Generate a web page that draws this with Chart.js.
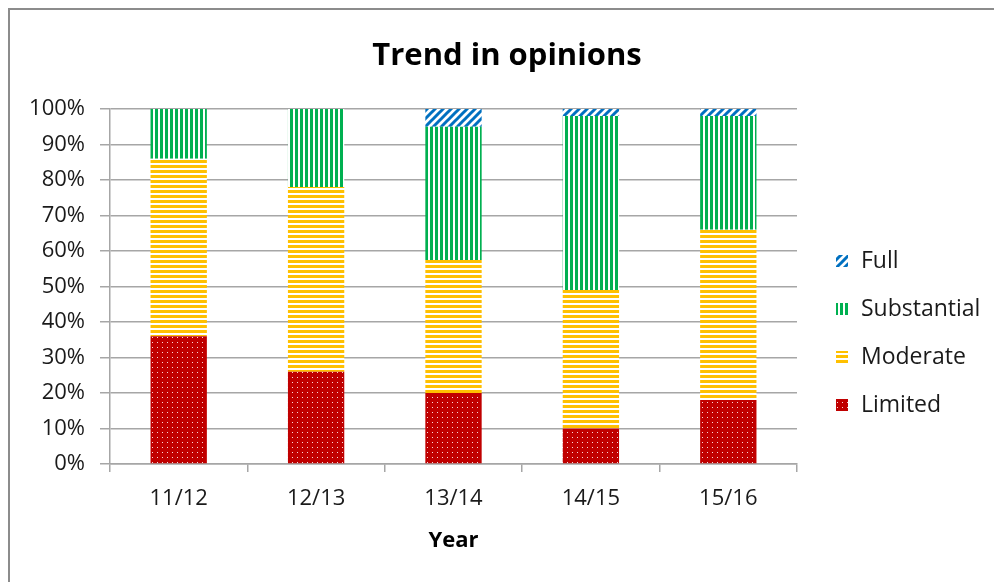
<!DOCTYPE html>
<html>
<head>
<meta charset="utf-8">
<script src="https://cdn.jsdelivr.net/npm/chart.js@4.4.0/dist/chart.umd.min.js"></script>
<style>
    body { margin: 0; background: #fff; }
    #wrap { width: 994px; height: 582px; position: relative; }
</style>
</head>
<body>
<div id="wrap"><canvas id="trendChart"></canvas></div>
<script>
// values (percent of responses)
const years = ['11/12', '12/13', '13/14', '14/15', '15/16'];
const seriesNames = ['Limited', 'Moderate', 'Substantial', 'Full'];
const limited = [36, 26, 20, 10, 18];
const moderate = [50, 52, 37.5, 39, 48];
const substantial = [14, 22, 37.5, 49, 32];
const full = [0, 0, 5, 2, 2];

const FONT = "'Open Sans', 'Noto Sans', sans-serif";
const GRID = '#a6a6a6';

function makePattern(size, draw) {
    const c = document.createElement('canvas');
    c.width = size;
    c.height = size;
    const g = c.getContext('2d');
    g.fillStyle = '#fff';
    g.fillRect(0, 0, size, size);
    draw(g);
    return document.createElement('canvas').getContext('2d').createPattern(c, 'repeat');
}

const dotsRed = makePattern(5, g => {
    g.fillStyle = '#c00000';
    g.fillRect(0, 0, 5, 5);
    g.fillStyle = 'rgba(255,255,255,0.85)';
    g.fillRect(2, 2, 1, 1);
});
const stripesYellow = makePattern(5, g => {
    g.fillStyle = '#ffc000';
    g.fillRect(0, 0, 5, 3);
});
const stripesGreen = makePattern(5, g => {
    g.fillStyle = '#00b050';
    g.fillRect(0, 0, 3, 5);
});
const diagBlue = makePattern(8, g => {
    g.strokeStyle = '#0070c0';
    g.lineWidth = 3;
    g.beginPath();
    g.moveTo(-2, 10); g.lineTo(10, -2);
    g.moveTo(-6, 6); g.lineTo(6, -6);
    g.moveTo(2, 14); g.lineTo(14, 2);
    g.stroke();
});

const fills = [dotsRed, stripesYellow, stripesGreen, diagBlue];
const values = [limited, moderate, substantial, full];

// frame, title and the legend on the right
const decorations = {
    id: 'decorations',
    beforeDraw(chart) {
        const ctx = chart.ctx;
        ctx.save();
        ctx.strokeStyle = '#8c8c8c';
        ctx.lineWidth = 2;
        ctx.beginPath();
        ctx.moveTo(9, 600);
        ctx.lineTo(9, 9);
        ctx.lineTo(1000, 9);
        ctx.stroke();
        ctx.restore();
    },
    afterDraw(chart) {
        const ctx = chart.ctx;
        ctx.save();
        ctx.fillStyle = '#000';
        ctx.font = 'bold 31px ' + FONT;
        ctx.textAlign = 'center';
        ctx.textBaseline = 'middle';
        ctx.fillText('Trend in opinions', 507, 56);

        ctx.font = '23px ' + FONT;
        ctx.textAlign = 'left';
        const ds = chart.data.datasets;
        for (let i = ds.length - 1, row = 0; i >= 0; i--, row++) {
            const y = 261 + row * 48;
            ctx.fillStyle = ds[i].backgroundColor;
            ctx.fillRect(836, y - 6, 12, 12);
            ctx.fillStyle = '#1a1a1a';
            ctx.fillText(ds[i].label, 861, y);
        }
        ctx.restore();
    }
};

new Chart(document.getElementById('trendChart'), {
    type: 'bar',
    data: {
        labels: years,
        datasets: seriesNames.map((name, i) => ({
            label: name,
            data: values[i],
            backgroundColor: fills[i],
            borderWidth: 0,
            categoryPercentage: 1,
            barPercentage: 0.41
        }))
    },
    options: {
        responsive: true,
        maintainAspectRatio: false,
        animation: false,
        layout: { padding: { left: 0, top: 109, right: 197, bottom: 0 } },
        plugins: {
            legend: { display: false },
            title: { display: false },
            tooltip: { enabled: false }
        },
        scales: {
            x: {
                stacked: true,
                afterFit: s => { s.height = 118; },
                grid: { drawOnChartArea: false, drawTicks: true, tickLength: 8, color: GRID, lineWidth: 1.5 },
                border: { color: GRID, width: 1.5 },
                ticks: { color: '#1a1a1a', font: { family: FONT, size: 22 }, padding: 14 },
                title: {
                    display: true,
                    text: 'Year',
                    color: '#000',
                    font: { family: FONT, size: 22, weight: 'bold' },
                    padding: { top: 0, bottom: 28 }
                }
            },
            y: {
                stacked: true,
                min: 0,
                max: 100,
                afterFit: s => { s.width = 110; },
                grid: { color: GRID, lineWidth: 1.5, tickLength: 10 },
                border: { color: GRID, width: 1.5 },
                ticks: {
                    stepSize: 10,
                    color: '#1a1a1a',
                    font: { family: FONT, size: 22 },
                    padding: 15,
                    callback: v => v + '%'
                }
            }
        }
    },
    plugins: [decorations]
});
</script>
</body>
</html>
